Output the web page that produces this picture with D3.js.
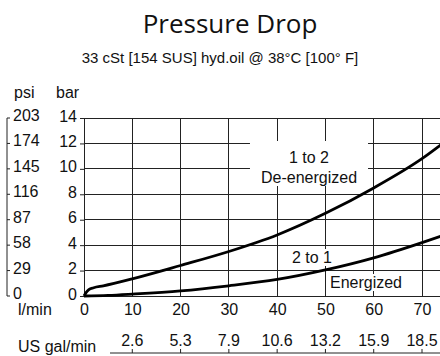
<!DOCTYPE html>
<html>
<head>
<meta charset="utf-8">
<script src="https://cdn.jsdelivr.net/npm/d3@7/dist/d3.min.js"></script>
<style>
  html, body { margin: 0; padding: 0; background: #fff; }
  svg { display: block; }
  text { font-family: "Liberation Sans", Arial, sans-serif; fill: #111; }
</style>
</head>
<body>
<svg id="chart" width="440" height="356"></svg>
<script>
// Flow axis (l/min) and its US gal/min equivalents
const flowTicks = [0, 10, 20, 30, 40, 50, 60, 70];
const galTicks = [10, 20, 30, 40, 50, 60, 70];
const galLabels = ["2.6", "5.3", "7.9", "10.6", "13.2", "15.9", "18.5"];

// Pressure axis: bar values with psi equivalents
const barTicks = [0, 2, 4, 6, 8, 10, 12, 14];
const psiLabels = ["0", "29", "58", "87", "116", "145", "174", "203"];

// Curve 1 to 2 (de-energized): flow l/min, pressure drop bar
const deEnergizedFlow = [0, 0.5, 1, 2, 4, 10, 20, 30, 40, 50, 60, 70, 75];
const deEnergizedBar  = [0, 0.3, 0.5, 0.65, 0.8, 1.35, 2.4, 3.5, 4.8, 6.5, 8.5, 10.8, 12.2];

// Curve 2 to 1 (energized)
const energizedFlow = [0, 5, 10, 20, 30, 40, 50, 60, 70, 75];
const energizedBar  = [0, 0.05, 0.15, 0.4, 0.8, 1.3, 2.05, 3.0, 4.2, 4.85];

const svg = d3.select("#chart");
const W = 440;

const x = d3.scaleLinear().domain([0, 70]).range([84, 422]);
const y = d3.scaleLinear().domain([0, 14]).range([296, 118]);

// Title block
svg.append("text")
  .attr("x", 230).attr("y", 33)
  .attr("text-anchor", "middle")
  .style("font-family", "'Open Sans', 'Noto Sans', sans-serif")
  .style("font-size", "26px")
  .text("Pressure Drop");
svg.append("text")
  .attr("x", 220).attr("y", 63)
  .attr("text-anchor", "middle")
  .style("font-size", "15px")
  .text("33 cSt [154 SUS] hyd.oil @ 38°C [100° F]");

// Grid
const grid = svg.append("g").attr("stroke", "#222").attr("stroke-width", 1).attr("shape-rendering", "crispEdges");
grid.selectAll("line.h").data(barTicks).join("line")
  .attr("class", "h")
  .attr("x1", x(0)).attr("x2", W)
  .attr("y1", d => y(d)).attr("y2", d => y(d));
grid.selectAll("line.v").data(flowTicks).join("line")
  .attr("class", "v")
  .attr("x1", d => x(d)).attr("x2", d => x(d))
  .attr("y1", y(14)).attr("y2", y(0));

// bar axis (left of plot)
const barAxis = svg.append("g")
  .attr("transform", `translate(${x(0)},0)`)
  .call(d3.axisLeft(y).tickValues(barTicks).tickSize(4).tickPadding(3).tickFormat(d3.format("d")));
barAxis.select(".domain").remove();
barAxis.selectAll("line").attr("stroke", "#222");
barAxis.selectAll("text")
  .attr("dy", "3")
  .style("font-size", "16px")
  .style("font-family", "'Liberation Sans', Arial, sans-serif")
  .attr("fill", "#111");

// psi axis (far left)
const psiAxis = svg.append("g").attr("transform", "translate(7,0)");
psiAxis.append("line")
  .attr("x1", 0).attr("x2", 0)
  .attr("y1", y(14)).attr("y2", y(0))
  .attr("stroke", "#222");
psiAxis.selectAll("line.t").data(barTicks).join("line")
  .attr("class", "t")
  .attr("x1", 0).attr("x2", 3)
  .attr("y1", d => y(d)).attr("y2", d => y(d))
  .attr("stroke", "#222");
psiAxis.selectAll("text").data(barTicks).join("text")
  .attr("x", 6)
  .attr("y", d => y(d) + 3)
  .style("font-size", "16px")
  .text((d, i) => psiLabels[i]);

svg.append("text").attr("x", 14).attr("y", 98).style("font-size", "16px").text("psi");
svg.append("text").attr("x", 56).attr("y", 98).style("font-size", "16px").text("bar");

// l/min axis labels
const flowAxis = svg.append("g")
  .attr("transform", `translate(0,${y(0)})`)
  .call(d3.axisBottom(x).tickValues(flowTicks).tickSize(0).tickPadding(8).tickFormat(d3.format("d")));
flowAxis.select(".domain").remove();
flowAxis.selectAll("text")
  .style("font-size", "16px")
  .style("font-family", "'Liberation Sans', Arial, sans-serif")
  .attr("fill", "#111");
svg.append("text").attr("x", 18).attr("y", 315)
  .style("font-size", "16px").text("l/min");

// US gal/min axis
const galAxis = svg.append("g").attr("transform", "translate(0,353)");
galAxis.append("line").attr("x1", 110).attr("x2", W).attr("y1", 0).attr("y2", 0)
  .attr("stroke", "#222");
galAxis.selectAll("line.t").data(galTicks).join("line")
  .attr("class", "t")
  .attr("x1", d => x(d)).attr("x2", d => x(d))
  .attr("y1", 0).attr("y2", -4)
  .attr("stroke", "#222");
galAxis.selectAll("text").data(galTicks).join("text")
  .attr("x", d => x(d)).attr("y", -7)
  .attr("text-anchor", "middle")
  .style("font-size", "16px")
  .text((d, i) => galLabels[i]);
svg.append("text").attr("x", 18).attr("y", 352)
  .style("font-size", "16px").text("US gal/min");

// Curve labels on white panels
function labelBlock(cx, lines, baseY, lineGap, pad) {
  const g = svg.append("g");
  const rect = g.append("rect").attr("fill", "#fff");
  g.selectAll("text").data(lines).join("text")
    .attr("x", cx).attr("y", (d, i) => baseY + i * lineGap)
    .attr("text-anchor", "middle")
    .style("font-size", "16px")
    .text(d => d);
  const bb = g.node().getBBox();
  rect.attr("x", bb.x - pad[0]).attr("y", bb.y - pad[1])
    .attr("width", bb.width + 2 * pad[0]).attr("height", bb.height + pad[1] + pad[2]);
}
labelBlock(309, ["1 to 2", "De-energized"], 163, 20, [11, 8, 0]);
labelBlock(312, ["2 to 1"], 263, 0, [2, 0, 0]);
labelBlock(366, ["Energized"], 288, 0, [2, 0, 0]);

// Curves
const line = d3.line()
  .x(d => x(d[0]))
  .y(d => y(d[1]))
  .curve(d3.curveMonotoneX);

const plot = svg.append("g");
plot.append("path")
  .datum(deEnergizedFlow.map((f, i) => [f, deEnergizedBar[i]]))
  .attr("d", line)
  .attr("fill", "none").attr("stroke", "#000").attr("stroke-width", 2.8);
plot.append("path")
  .datum(energizedFlow.map((f, i) => [f, energizedBar[i]]))
  .attr("d", line)
  .attr("fill", "none").attr("stroke", "#000").attr("stroke-width", 2.8);
</script>
</body>
</html>
